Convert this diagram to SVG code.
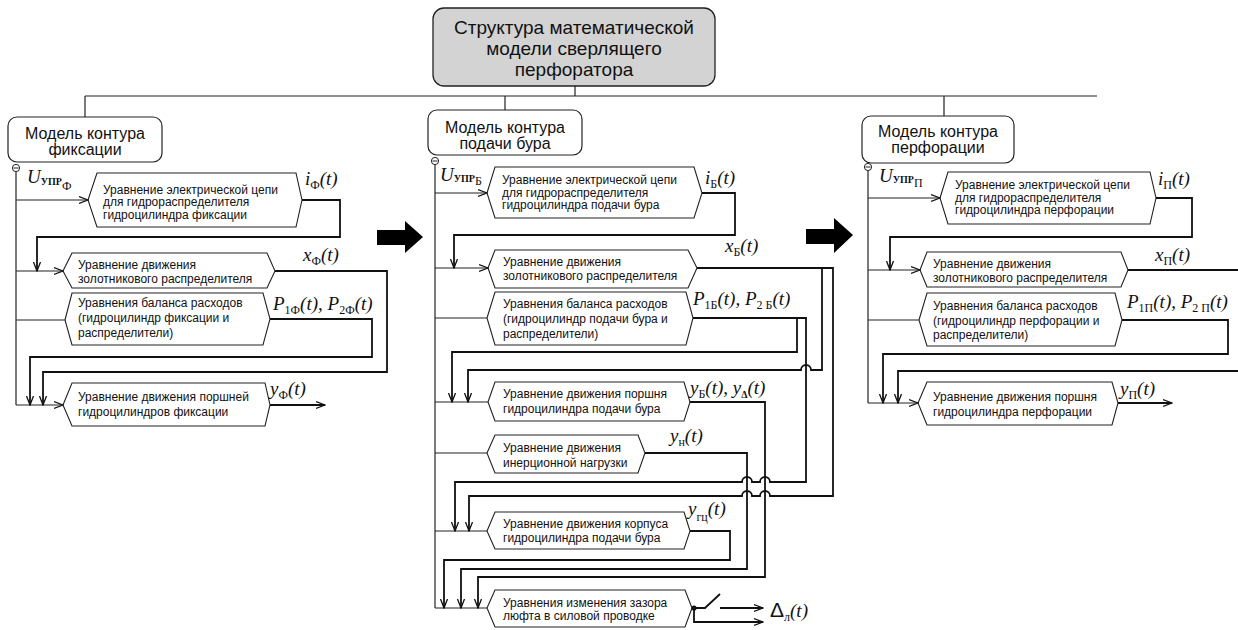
<svg xmlns="http://www.w3.org/2000/svg" width="1238" height="630" viewBox="0 0 1238 630">
<style>
.bx{fill:#fff;stroke:#222;stroke-width:1.2}
.hx{fill:#fff;stroke:#222;stroke-width:1.1}
.t{font-family:"Liberation Sans",Arial,sans-serif;font-size:12px;fill:#111}
.h{font-family:"Liberation Sans",Arial,sans-serif;font-size:16px;fill:#111;text-anchor:middle}
.tt{font-family:"Liberation Sans",Arial,sans-serif;font-size:19px;fill:#111;text-anchor:middle}
.lb{font-family:"Liberation Serif","Times New Roman",serif;font-size:19px;font-style:italic;fill:#111}
.s{font-style:normal;font-size:12px}
.ss{font-style:normal;font-size:10px;font-weight:bold}
.w{fill:none;stroke:#111;stroke-width:1.8}
.n{fill:none;stroke:#222;stroke-width:1.2}
</style>
<defs>
<marker id="ah" markerUnits="userSpaceOnUse" markerWidth="10" markerHeight="10" viewBox="0 0 10 8" refX="9" refY="4" orient="auto">
<path d="M0,0.5 L9,4 L0,7.5" fill="none" stroke="#111" stroke-width="1.3"/>
</marker>
</defs>

<g id="title">
<rect x="433" y="8" width="282" height="78" rx="11" fill="#d3d3d3" stroke="#222" stroke-width="1.3"/>
<text class="tt" x="574" y="34">Структура математической</text>
<text class="tt" x="574" y="55">модели сверлящего</text>
<text class="tt" x="574" y="76">перфоратора</text>
</g>

<g id="big-arrows" fill="#000">
<polygon points="377,230 405,230 405,221 423,237 405,253 405,245 377,245"/>
<polygon points="806,229 834,229 834,218 853,235 834,253 834,244 806,244"/>
</g>

<!-- left column -->
<g id="hdr-fix">
<rect class="bx" x="8" y="117" width="154" height="45" rx="9"/>
<text class="h" x="85" y="139">Модель контура</text>
<text class="h" x="85" y="155">фиксации</text>
</g>
<g id="f1">
<polygon class="hx" points="88,200 97,173 296,173 302,200 296,227 97,227"/>
<text class="t" x="103" y="194">Уравнение электрической цепи</text>
<text class="t" x="103" y="206">для гидрораспределителя</text>
<text class="t" x="103" y="219">гидроцилиндра фиксации</text>
</g>
<g id="f2">
<polygon class="hx" points="63,271 72,253 267,253 275,271 267,288 72,288"/>
<text class="t" x="78" y="269">Уравнение движения</text>
<text class="t" x="78" y="283">золотникового распределителя</text>
</g>
<g id="f3">
<polygon class="hx" points="65,320 72,293 263,293 270,319 263,345 72,345"/>
<text class="t" x="78" y="307">Уравнения баланса расходов</text>
<text class="t" x="78" y="322">(гидроцилиндр фиксации и</text>
<text class="t" x="78" y="337">распределители)</text>
</g>
<g id="f4">
<polygon class="hx" points="63,405 72,383 265,383 270,405 265,426 72,426"/>
<text class="t" x="78" y="401">Уравнение движения  поршней</text>
<text class="t" x="78" y="416">гидроцилиндров фиксации</text>
</g>

<!-- middle column -->
<g id="hdr-feed">
<rect class="bx" x="428" y="110" width="154" height="45" rx="9"/>
<text class="h" x="505" y="133">Модель контура</text>
<text class="h" x="505" y="149">подачи бура</text>
</g>
<g id="m1">
<polygon class="hx" points="487,193 495,167 694,167 702,193 694,218 495,218"/>
<text class="t" x="502" y="184">Уравнение электрической цепи</text>
<text class="t" x="502" y="197">для гидрораспределителя</text>
<text class="t" x="502" y="209">гидроцилиндра подачи бура</text>
</g>
<g id="m2">
<polygon class="hx" points="488,268 495,250 688,250 697,268 688,288 495,288"/>
<text class="t" x="503" y="266">Уравнение движения</text>
<text class="t" x="503" y="280">золотникового распределителя</text>
</g>
<g id="m3">
<polygon class="hx" points="487,318 495,292 686,292 693,318 686,345 495,345"/>
<text class="t" x="503" y="308">Уравнения баланса расходов</text>
<text class="t" x="503" y="323">(гидроцилиндр подачи бура и</text>
<text class="t" x="503" y="338">распределители)</text>
</g>
<g id="m4">
<polygon class="hx" points="488,402 495,382 684,382 690,402 684,421 495,421"/>
<text class="t" x="503" y="398">Уравнение движения поршня</text>
<text class="t" x="503" y="413">гидроцилиндра подачи бура</text>
</g>
<g id="m5">
<polygon class="hx" points="487,453 495,435 638,435 645,453 638,473 495,473"/>
<text class="t" x="503" y="452">Уравнение движения</text>
<text class="t" x="503" y="467">инерционной нагрузки</text>
</g>
<g id="m6">
<polygon class="hx" points="487,531 495,512 684,512 690,531 684,549 495,549"/>
<text class="t" x="503" y="528">Уравнение движения корпуса</text>
<text class="t" x="503" y="542">гидроцилиндра подачи бура</text>
</g>
<g id="m7">
<polygon class="hx" points="487,608 495,590 685,590 692,608 685,627 495,627"/>
<text class="t" x="503" y="607">Уравнения изменения зазора</text>
<text class="t" x="503" y="620">люфта в силовой проводке</text>
</g>

<!-- right column -->
<g id="hdr-perf">
<rect class="bx" x="862" y="116" width="152" height="47" rx="9"/>
<text class="h" x="938" y="137">Модель контура</text>
<text class="h" x="938" y="153">перфорации</text>
</g>
<g id="r1">
<polygon class="hx" points="940,198 948,172 1150,172 1156,198 1150,224 948,224"/>
<text class="t" x="955" y="189">Уравнение электрической цепи</text>
<text class="t" x="955" y="202">для гидрораспределителя</text>
<text class="t" x="955" y="214">гидроцилиндра  перфорации</text>
</g>
<g id="r2">
<polygon class="hx" points="920,270 927,252 1121,252 1128,270 1121,287 927,287"/>
<text class="t" x="933" y="268">Уравнение движения</text>
<text class="t" x="933" y="282">золотникового распределителя</text>
</g>
<g id="r3">
<polygon class="hx" points="919,320 927,293 1115,293 1122,320 1115,346 927,346"/>
<text class="t" x="933" y="310">Уравнения баланса расходов</text>
<text class="t" x="933" y="325">(гидроцилиндр перфорации и</text>
<text class="t" x="933" y="339">распределители)</text>
</g>
<g id="r4">
<polygon class="hx" points="918,403 927,382 1112,382 1118,403 1112,425 927,425"/>
<text class="t" x="933" y="401">Уравнение движения поршня</text>
<text class="t" x="933" y="416">гидроцилиндра перфорации</text>
</g>

<g id="connectors">
<!-- top tree -->
<path class="n" d="M575,86 V96 M85,96 H1097 M85,96 V117 M505,96 V110 M944,96 V116"/>
<!-- minus circles -->
<g fill="#fff" stroke="#222" stroke-width="1">
<circle cx="16" cy="168" r="3.6"/><circle cx="435" cy="161" r="3.6"/><circle cx="868" cy="167" r="3.6"/>
</g>
<path stroke="#222" stroke-width="1" d="M13.5,168 H18.5 M432.5,161 H437.5 M865.5,167 H870.5"/>

<!-- left -->
<path class="n" d="M16,172 V405"/>
<path class="n" d="M16,200 H88" marker-end="url(#ah)"/>
<path class="n" d="M16,271 H63" marker-end="url(#ah)"/>
<path class="n" d="M16,320 H65"/>
<path class="n" d="M16,405 H63" marker-end="url(#ah)"/>
<path class="w" d="M302,200 H340 V237 H37 V271" marker-end="url(#ah)"/>
<path class="w" d="M275,271 H387 V372 H43 V405" marker-end="url(#ah)"/>
<path class="w" d="M270,319 H372 V357 H30 V405" marker-end="url(#ah)"/>
<path class="w" d="M270,405 H325" marker-end="url(#ah)"/>

<!-- middle -->
<path class="n" d="M435,165 V608"/>
<path class="n" d="M435,193 H487" marker-end="url(#ah)"/>
<path class="n" d="M435,268 H488" marker-end="url(#ah)"/>
<path class="n" d="M435,318 H487"/>
<path class="n" d="M435,402 H488"/>
<path class="n" d="M435,453 H487"/>
<path class="n" d="M435,531 H487"/>
<path class="n" d="M435,608 H487"/>
<path class="w" d="M702,193 H735 V235 H454 V268" marker-end="url(#ah)"/>
<path class="w" d="M697,268 H833 V496 H770 A5,5 0 0 0 760,496 H752 A5,5 0 0 0 742,496 H469 V531" marker-end="url(#ah)"/>
<path class="w" d="M822,268 V370 H811 A5,5 0 0 0 801,370 H468 V402" marker-end="url(#ah)"/>
<path class="w" d="M693,318 H806 V482 H770 A5,5 0 0 0 760,482 H752 A5,5 0 0 0 742,482 H455 V531" marker-end="url(#ah)"/>
<path class="w" d="M797,318 V352 H452 V402" marker-end="url(#ah)"/>
<path class="w" d="M690,402 H765 V577 H478 V608" marker-end="url(#ah)"/>
<path class="w" d="M645,453 H747 V569 H461 V608" marker-end="url(#ah)"/>
<path class="w" d="M690,531 H730 V560 H444 V608" marker-end="url(#ah)"/>
<path class="w" d="M692,608 H705 L720,594"/>
<circle cx="694" cy="608" r="2.6" fill="#111"/>
<path class="w" d="M720,608 H763" marker-end="url(#ah)"/>
<path class="w" d="M694,608 V622 H763" marker-end="url(#ah)"/>

<!-- right -->
<path class="n" d="M868,171 V403"/>
<path class="n" d="M868,198 H940" marker-end="url(#ah)"/>
<path class="n" d="M868,270 H920" marker-end="url(#ah)"/>
<path class="n" d="M868,320 H919"/>
<path class="n" d="M868,403 H918" marker-end="url(#ah)"/>
<path class="w" d="M1156,198 H1192 V237 H890 V270" marker-end="url(#ah)"/>
<path class="w" d="M1128,270 H1238"/>
<path class="w" d="M1238,371 H898 V403" marker-end="url(#ah)"/>
<path class="w" d="M1122,320 H1228 V354 H883 V403" marker-end="url(#ah)"/>
<path class="w" d="M1118,403 H1172" marker-end="url(#ah)"/>
</g>

<g id="labels">
<text class="lb" x="27" y="183">U<tspan class="ss" dy="2">УПР</tspan><tspan class="s" dy="5">Ф</tspan></text>
<text class="lb" x="305" y="185">i<tspan class="s" dy="4">Ф</tspan><tspan dy="-4">(t)</tspan></text>
<text class="lb" x="303" y="261">x<tspan class="s" dy="4">Ф</tspan><tspan dy="-4">(t)</tspan></text>
<text class="lb" x="273" y="310">P<tspan class="s" dy="4">1Ф</tspan><tspan dy="-4">(t), P</tspan><tspan class="s" dy="4">2Ф</tspan><tspan dy="-4">(t)</tspan></text>
<text class="lb" x="270" y="395">y<tspan class="s" dy="4">Ф</tspan><tspan dy="-4">(t)</tspan></text>

<text class="lb" x="440" y="181">U<tspan class="ss" dy="1">УПР</tspan><tspan class="s" dy="3">Б</tspan></text>
<text class="lb" x="705" y="184">i<tspan class="s" dy="4">Б</tspan><tspan dy="-4">(t)</tspan></text>
<text class="lb" x="725" y="252">x<tspan class="s" dy="4">Б</tspan><tspan dy="-4">(t)</tspan></text>
<text class="lb" x="693" y="305">P<tspan class="s" dy="4">1Б</tspan><tspan dy="-4">(t), P</tspan><tspan class="s" dy="4">2 Б</tspan><tspan dy="-4">(t)</tspan></text>
<text class="lb" x="690" y="394">y<tspan class="s" dy="4">Б</tspan><tspan dy="-4">(t), y</tspan><tspan class="ss" dy="4">Δ</tspan><tspan dy="-4">(t)</tspan></text>
<text class="lb" x="670" y="442">y<tspan class="s" dy="4">н</tspan><tspan dy="-4">(t)</tspan></text>
<text class="lb" x="688" y="515">y<tspan class="s" dy="6">гц</tspan><tspan dy="-6">(t)</tspan></text>
<text class="lb" x="770" y="617"><tspan font-style="normal" font-family="Liberation Sans, sans-serif" font-size="21">Δ</tspan><tspan class="s" dy="4">л</tspan><tspan dy="-4">(t)</tspan></text>

<text class="lb" x="879" y="182">U<tspan class="ss" dy="1">УПР</tspan><tspan class="s" dy="4">П</tspan></text>
<text class="lb" x="1158" y="185">i<tspan class="s" dy="4">П</tspan><tspan dy="-4">(t)</tspan></text>
<text class="lb" x="1155" y="261">x<tspan class="s" dy="4">П</tspan><tspan dy="-4">(t)</tspan></text>
<text class="lb" x="1127" y="308">P<tspan class="s" dy="4">1П</tspan><tspan dy="-4">(t), P</tspan><tspan class="s" dy="4">2 П</tspan><tspan dy="-4">(t)</tspan></text>
<text class="lb" x="1120" y="395">y<tspan class="s" dy="4">П</tspan><tspan dy="-4">(t)</tspan></text>
</g>
</svg>
